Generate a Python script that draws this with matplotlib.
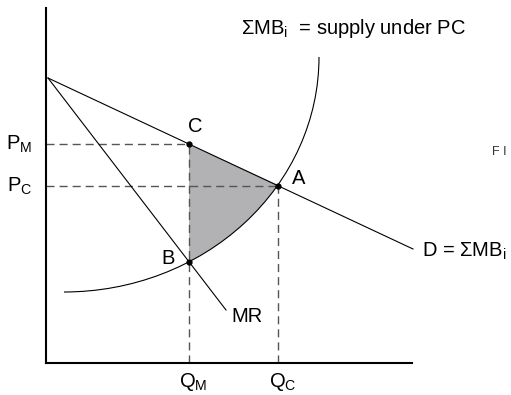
import numpy as np
import matplotlib
matplotlib.use('Agg')
import matplotlib.pyplot as plt
from matplotlib.path import Path
from matplotlib.patches import PathPatch
from matplotlib.transforms import Affine2D

plt.rcParams['font.family'] = ['Liberation Sans', 'DejaVu Sans']

# Curves (origin at the axes corner)
demand_x = [2, 367]
demand_y = [285, 114]
mr_x = [2, 180]
mr_y = [285, 53]

# supply curve = quarter ellipse
supply_center = (18, 306)
supply_a, supply_b = 255, 235

# key points
qm, qc = 143, 232
pm, pc = 219, 177
pb = 101

axis_x_end, axis_y_end = 366, 355

fig = plt.figure(figsize=(5.11, 3.95), dpi=100)
ax = fig.add_axes([0, 0, 1, 1])
ax.set_xlim(-46, 465)
ax.set_ylim(-32, 363)

# Axes
for s in ['top', 'right']:
    ax.spines[s].set_visible(False)
ax.spines['left'].set_position(('data', 0))
ax.spines['bottom'].set_position(('data', 0))
ax.spines['left'].set_bounds(0, axis_y_end)
ax.spines['bottom'].set_bounds(0, axis_x_end)
ax.spines['left'].set_linewidth(1.5)
ax.spines['bottom'].set_linewidth(1.5)
ax.set_xticks([])
ax.set_yticks([])

# Shaded welfare loss triangle C-A-B
ell = Affine2D().scale(supply_a, supply_b).translate(*supply_center)
t_b = 360 - np.degrees(np.arccos((qm - supply_center[0]) / supply_a))
t_a = 360 - np.degrees(np.arccos((qc - supply_center[0]) / supply_a))
seg = ell.transform_path(Path.arc(t_b, t_a))
verts = list(seg.vertices) + [(qm, pm), (qm, pb)]
codes = list(seg.codes) + [Path.LINETO, Path.CLOSEPOLY]
ax.add_patch(PathPatch(Path(verts, codes), fc='#b2b2b4', ec='none', zorder=1))

# Supply curve
arc_full = ell.transform_path(Path.arc(270, 360))
ax.add_patch(PathPatch(arc_full, fill=False, ec='black', lw=0.8, zorder=3))

# Demand and MR
ax.plot(demand_x, demand_y, color='black', lw=0.8, zorder=3)
ax.plot(mr_x, mr_y, color='black', lw=0.8, zorder=3)

# Dashed guide lines
dash = dict(color='#555555', lw=1.0, dashes=(5.8, 3.6), zorder=2)
ax.plot([0, qm], [pm, pm], **dash)
ax.plot([0, qc], [pc, pc], **dash)
ax.plot([qm, qm], [0, pm], **dash)
ax.plot([qc, qc], [0, pc], **dash)

# Points
ax.plot([qm, qc, qm], [pm, pc, pb], 'o', color='black', ms=3.5, zorder=4)

fs = 14.5
ax.text(-14, pm, 'P$_\\mathregular{M}$', fontsize=fs, ha='right', va='center')
ax.text(-14, pc, 'P$_\\mathregular{C}$', fontsize=fs, ha='right', va='center')
ax.text(qm + 4, -8, 'Q$_\\mathregular{M}$', fontsize=fs, ha='center', va='top')
ax.text(qc + 5, -8, 'Q$_\\mathregular{C}$', fontsize=fs, ha='center', va='top')
ax.text(149, 236, 'C', fontsize=fs, ha='center', va='center')
ax.text(253, 185, 'A', fontsize=fs, ha='center', va='center')
ax.text(122, 104, 'B', fontsize=fs, ha='center', va='center')
ax.text(201, 47, 'MR', fontsize=fs, ha='center', va='center')
ax.text(376, 112, 'D = ΣMB$_\\mathregular{i}$', fontsize=fs, ha='left', va='center')
ax.text(195, 334, 'ΣMB$_\\mathregular{i}$  = supply under PC', fontsize=fs,
        ha='left', va='center')
ax.text(446, 211, 'F I', fontsize=9, color='#333333', ha='left', va='center')

fig.savefig('out.png', dpi=100)
